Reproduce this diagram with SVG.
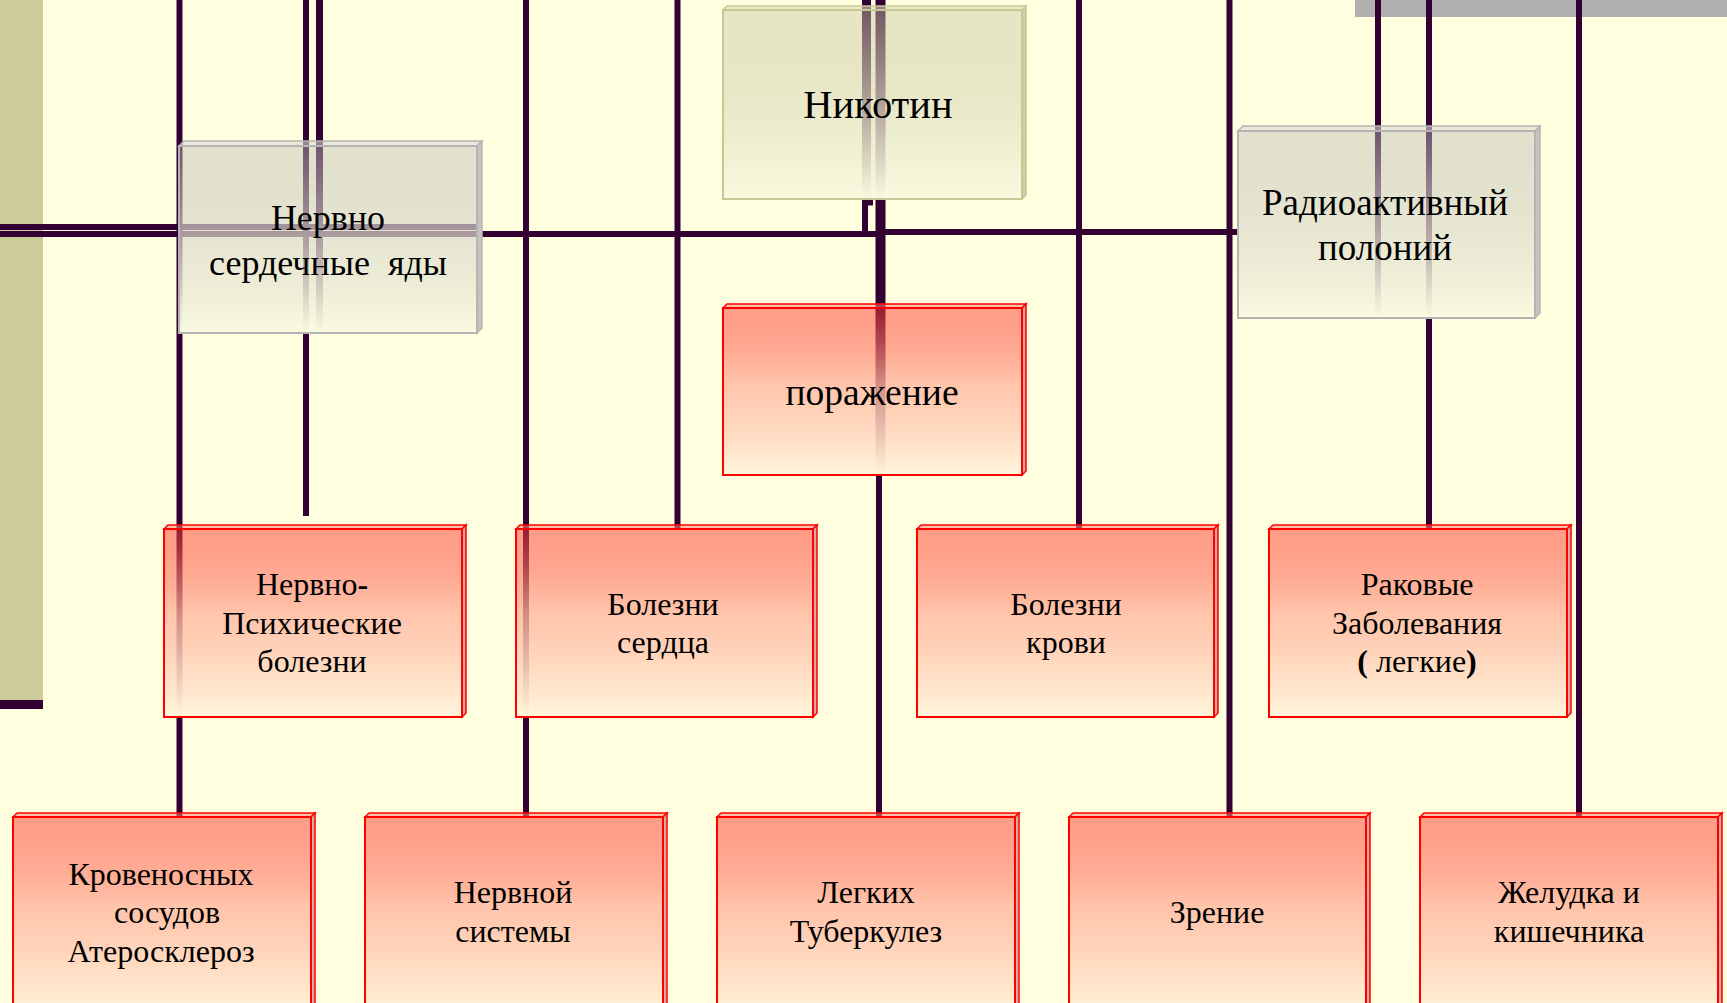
<svg xmlns="http://www.w3.org/2000/svg" width="1727" height="1003" viewBox="0 0 1727 1003">
<defs>
<linearGradient id="gRed" x1="0" y1="0" x2="0" y2="1">
<stop offset="0" stop-color="#ff3a2e" stop-opacity="0.5"/>
<stop offset="0.45" stop-color="#ffb49c" stop-opacity="0.78"/>
<stop offset="1" stop-color="#fff6dc" stop-opacity="1"/>
</linearGradient>
<linearGradient id="gGrey" x1="0" y1="0" x2="0" y2="1">
<stop offset="0" stop-color="#bfbdb8" stop-opacity="0.45"/>
<stop offset="1" stop-color="#fafae0" stop-opacity="1"/>
</linearGradient>
<linearGradient id="gOlive" x1="0" y1="0" x2="0" y2="1">
<stop offset="0" stop-color="#c8c8a2" stop-opacity="0.45"/>
<stop offset="1" stop-color="#fafae0" stop-opacity="1"/>
</linearGradient>
<style>
.ln{stroke:#330033;fill:none}
.rf{fill:url(#gRed);stroke:#ff0000;stroke-width:2}
.rt{fill:#ff8c78;fill-opacity:0.55;stroke:#ff0000;stroke-width:1.5}
.rs{fill:#d4aaa2;stroke:#ff0000;stroke-width:1.5}
.gf{fill:url(#gGrey);stroke:#b4b4b4;stroke-width:2}
.gt{fill:#dcdbd0;fill-opacity:0.6;stroke:#b4b4b4;stroke-width:1.5}
.gs{fill:#c4c4bc;stroke:#b4b4b4;stroke-width:1.5}
.of{fill:url(#gOlive);stroke:#c8c896;stroke-width:2}
.ot{fill:#e0e0bc;fill-opacity:0.6;stroke:#c8c896;stroke-width:1.5}
.os{fill:#cdcda4;stroke:#c8c896;stroke-width:1.5}
text{font-family:"Liberation Serif","Times New Roman",serif;fill:#000;text-anchor:middle}
.t36{font-size:36px}
.t32{font-size:32px}
.b{font-weight:bold}
</style>
</defs>
<rect width="1727" height="1003" fill="#ffffe0"/>
<rect x="0" y="0" width="43" height="700" fill="#cccc99"/>
<rect x="0" y="700" width="43" height="9" fill="#330033"/>
<rect x="1355" y="0" width="372" height="17" fill="#b0b0b0"/>

<g id="connectors">
<path class="ln" stroke-width="6" d="M179.5,0V817M306,0V516M526,0V817M677.5,0V529M1079,0V529M1229.5,0V817M1378,0V318M1429,0V529M1579,0V817"/>
<path class="ln" stroke-width="7" d="M319.5,0V333"/>
<path class="ln" stroke-width="9" d="M866.5,0V198"/>
<path class="ln" stroke-width="6" d="M865,198V234M865,202.5H873"/>
<path class="ln" stroke-width="10" d="M880.5,0V475"/>
<path class="ln" stroke-width="6" d="M879,475V817"/>
<path class="ln" stroke-width="6" d="M0,227H480M0,234H876M876,232H1238"/>
</g>

<g id="node-nervno-serdechnye">
<path class="gt" d="M179,146l5,-5h298l-5,5z"/>
<path class="gs" d="M477,146l5,-5v187l-5,5z"/>
<rect class="gf" x="179" y="146" width="298" height="187"/>
<text class="t36" x="328" y="230">Нервно</text>
<text class="t36" x="328" y="275" xml:space="preserve">сердечные  яды</text>
</g>

<g id="node-nikotin">
<path class="ot" d="M723,10l4,-4h299l-4,4z"/>
<path class="os" d="M1022,10l4,-4v189l-4,4z"/>
<rect class="of" x="723" y="10" width="299" height="189"/>
<text x="878" y="118" style="font-size:40.5px">Никотин</text>
</g>

<g id="node-radio">
<path class="gt" d="M1238,131l5,-5h297l-5,5z"/>
<path class="gs" d="M1535,131l5,-5v187l-5,5z"/>
<rect class="gf" x="1238" y="131" width="297" height="187"/>
<text x="1385" y="215" style="font-size:37px">Радиоактивный</text>
<text x="1385" y="260" style="font-size:37px">полоний</text>
</g>

<g id="node-porazhenie">
<path class="rt" d="M723,308l4,-4h299l-4,4z"/>
<path class="rs" d="M1022,308l4,-4v167l-4,4z"/>
<rect class="rf" x="723" y="308" width="299" height="167"/>
<text x="872" y="405" style="font-size:37.5px">поражение</text>
</g>

<g id="node-nervno-psih">
<path class="rt" d="M164,529l4,-4h298l-4,4z"/>
<path class="rs" d="M462,529l4,-4v188l-4,4z"/>
<rect class="rf" x="164" y="529" width="298" height="188"/>
<text class="t32" x="312" y="595">Нервно<tspan class="b">-</tspan></text>
<text class="t32" x="312" y="634">Психические</text>
<text class="t32" x="312" y="672">болезни</text>
</g>

<g id="node-bolezni-serdca">
<path class="rt" d="M516,529l4,-4h297l-4,4z"/>
<path class="rs" d="M813,529l4,-4v188l-4,4z"/>
<rect class="rf" x="516" y="529" width="297" height="188"/>
<text class="t32" x="663" y="615">Болезни</text>
<text class="t32" x="663" y="653">сердца</text>
</g>

<g id="node-bolezni-krovi">
<path class="rt" d="M917,529l4,-4h297l-4,4z"/>
<path class="rs" d="M1214,529l4,-4v188l-4,4z"/>
<rect class="rf" x="917" y="529" width="297" height="188"/>
<text class="t32" x="1066" y="615">Болезни</text>
<text class="t32" x="1066" y="653">крови</text>
</g>

<g id="node-rakovye">
<path class="rt" d="M1269,529l4,-4h298l-4,4z"/>
<path class="rs" d="M1567,529l4,-4v188l-4,4z"/>
<rect class="rf" x="1269" y="529" width="298" height="188"/>
<text class="t32" x="1417" y="595">Раковые</text>
<text class="t32" x="1417" y="634">Заболевания</text>
<text class="t32" x="1417" y="672" xml:space="preserve"><tspan class="b">(</tspan> легкие<tspan class="b">)</tspan></text>
</g>

<g id="node-krovenosnyh">
<path class="rt" d="M13,817l4,-4h298l-4,4z"/>
<path class="rs" d="M311,817l4,-4v195l-4,4z"/>
<rect class="rf" x="13" y="817" width="298" height="200"/>
<text class="t32" x="161" y="885">Кровеносных</text>
<text class="t32" x="167" y="923">сосудов</text>
<text class="t32" x="161" y="962">Атеросклероз</text>
</g>

<g id="node-nervnoy">
<path class="rt" d="M365,817l4,-4h298l-4,4z"/>
<path class="rs" d="M663,817l4,-4v195l-4,4z"/>
<rect class="rf" x="365" y="817" width="298" height="200"/>
<text class="t32" x="513" y="903">Нервной</text>
<text class="t32" x="513" y="942">системы</text>
</g>

<g id="node-legkih">
<path class="rt" d="M717,817l4,-4h298l-4,4z"/>
<path class="rs" d="M1015,817l4,-4v195l-4,4z"/>
<rect class="rf" x="717" y="817" width="298" height="200"/>
<text class="t32" x="866" y="903">Легких</text>
<text class="t32" x="866" y="942">Туберкулез</text>
</g>

<g id="node-zrenie">
<path class="rt" d="M1069,817l4,-4h297l-4,4z"/>
<path class="rs" d="M1366,817l4,-4v195l-4,4z"/>
<rect class="rf" x="1069" y="817" width="297" height="200"/>
<text class="t32" x="1217" y="923">Зрение</text>
</g>

<g id="node-zheludka">
<path class="rt" d="M1420,817l4,-4h298l-4,4z"/>
<path class="rs" d="M1718,817l4,-4v195l-4,4z"/>
<rect class="rf" x="1420" y="817" width="298" height="200"/>
<text class="t32" x="1569" y="903">Желудка и</text>
<text class="t32" x="1569" y="942">кишечника</text>
</g>
</svg>
